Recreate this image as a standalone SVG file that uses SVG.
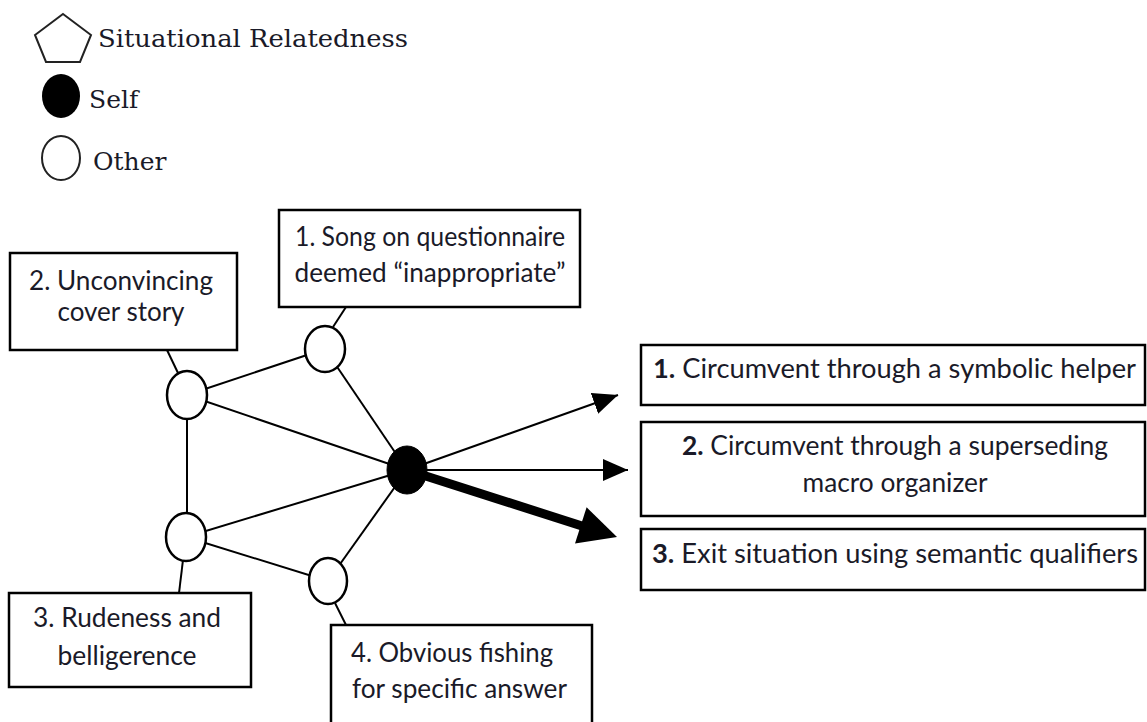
<svg xmlns="http://www.w3.org/2000/svg" width="1147" height="722" viewBox="0 0 1147 722">
  <style>
    .box { fill: #fff; stroke: #000; stroke-width: 2.5; }
    .lbl { font-family: Lato, "Liberation Sans", sans-serif; font-size: 26px; fill: #1a1a28; }
    .leg { font-family: "DejaVu Serif", "Liberation Serif", serif; font-size: 25px; fill: #1a1a28; }
    .edge { stroke: #000; stroke-width: 2; fill: none; }
    .other { fill: #fff; stroke: #000; stroke-width: 2.5; }
    .self { fill: #000; stroke: #000; stroke-width: 1; }
    .b { font-weight: bold; }
  </style>
  <defs>
    <marker id="head" markerUnits="userSpaceOnUse" markerWidth="26" markerHeight="24" refX="25" refY="11" orient="auto">
      <path d="M0,0 L25,11 L0,22 Z" fill="#000"/>
    </marker>
  </defs>
  <rect width="1147" height="722" fill="#fff"/>

  <!-- legend -->
  <g id="legend">
    <polygon points="63,14 91,35 80,62 46,62 35,35" fill="#fff" stroke="#222" stroke-width="2"/>
    <text class="leg" x="98" y="47" textLength="310" lengthAdjust="spacingAndGlyphs">Situational Relatedness</text>
    <ellipse cx="61" cy="96" rx="19" ry="22" fill="#000"/>
    <text class="leg" x="89" y="108">Self</text>
    <ellipse cx="61" cy="158" rx="19" ry="22" fill="#fff" stroke="#222" stroke-width="2"/>
    <text class="leg" x="93" y="170">Other</text>
  </g>

  <!-- connectors -->
  <g id="connectors">
    <line class="edge" x1="187" y1="395" x2="325" y2="349"/>
    <line class="edge" x1="187" y1="395" x2="407" y2="470"/>
    <line class="edge" x1="187" y1="395" x2="187" y2="537"/>
    <line class="edge" x1="186" y1="537" x2="407" y2="470"/>
    <line class="edge" x1="186" y1="537" x2="328" y2="581"/>
    <line class="edge" x1="325" y1="349" x2="407" y2="470"/>
    <line class="edge" x1="328" y1="581" x2="407" y2="470"/>
    <line class="edge" x1="333" y1="327" x2="346" y2="307"/>
    <line class="edge" x1="178" y1="373" x2="167" y2="350"/>
    <line class="edge" x1="183" y1="560" x2="179" y2="593"/>
    <line class="edge" x1="335" y1="603" x2="346" y2="625"/>
    <line class="edge" x1="407" y1="470" x2="618" y2="395" marker-end="url(#head)"/>
    <line class="edge" x1="407" y1="470" x2="628" y2="470" marker-end="url(#head)"/>
    <line x1="407" y1="470" x2="582" y2="526" stroke="#000" stroke-width="9"/>
    <polygon points="586.6,507.3 617,537 575,543.5" fill="#000"/>
  </g>

  <!-- network nodes -->
  <g id="n-song"><ellipse class="other" cx="325" cy="349" rx="20" ry="23"/></g>
  <g id="n-cover"><ellipse class="other" cx="187" cy="395" rx="20" ry="24"/></g>
  <g id="n-rude"><ellipse class="other" cx="186" cy="537" rx="20" ry="24"/></g>
  <g id="n-fish"><ellipse class="other" cx="328" cy="581" rx="19" ry="23"/></g>
  <g id="n-self"><ellipse class="self" cx="407" cy="470" rx="20" ry="24"/></g>

  <!-- situation boxes -->
  <g id="box-song">
    <rect class="box" x="279" y="210" width="301" height="97"/>
    <text class="lbl" x="430" y="246" text-anchor="middle" textLength="270" lengthAdjust="spacingAndGlyphs">1. Song on questionnaire</text>
    <text class="lbl" x="430" y="282" text-anchor="middle" textLength="271" lengthAdjust="spacingAndGlyphs">deemed “inappropriate”</text>
  </g>
  <g id="box-cover">
    <rect class="box" x="10" y="253" width="227" height="97"/>
    <text class="lbl" x="121" y="290" text-anchor="middle" textLength="184" lengthAdjust="spacingAndGlyphs">2. Unconvincing</text>
    <text class="lbl" x="121" y="321" text-anchor="middle" textLength="127" lengthAdjust="spacingAndGlyphs">cover story</text>
  </g>
  <g id="box-rude">
    <rect class="box" x="9" y="593" width="242" height="94"/>
    <text class="lbl" x="127" y="627" text-anchor="middle" textLength="188" lengthAdjust="spacingAndGlyphs">3. Rudeness and</text>
    <text class="lbl" x="127" y="665" text-anchor="middle" textLength="139" lengthAdjust="spacingAndGlyphs">belligerence</text>
  </g>
  <g id="box-fish">
    <rect class="box" x="331" y="625" width="261" height="120"/>
    <text class="lbl" x="351" y="662" textLength="202" lengthAdjust="spacingAndGlyphs">4. Obvious fishing</text>
    <text class="lbl" x="352" y="698" textLength="215" lengthAdjust="spacingAndGlyphs">for specific answer</text>
  </g>

  <!-- outcome boxes -->
  <g id="out-helper">
    <rect class="box" x="641" y="345" width="504" height="60"/>
    <text class="lbl" x="653" y="378" textLength="483" lengthAdjust="spacingAndGlyphs"><tspan class="b">1.</tspan> Circumvent through a symbolic helper</text>
  </g>
  <g id="out-macro">
    <rect class="box" x="641" y="422" width="504" height="94"/>
    <text class="lbl" x="895" y="455" text-anchor="middle" textLength="426" lengthAdjust="spacingAndGlyphs"><tspan class="b">2.</tspan> Circumvent through a superseding</text>
    <text class="lbl" x="895" y="492" text-anchor="middle" textLength="185" lengthAdjust="spacingAndGlyphs">macro organizer</text>
  </g>
  <g id="out-exit">
    <rect class="box" x="641" y="529" width="504" height="61"/>
    <text class="lbl" x="652" y="563" textLength="486" lengthAdjust="spacingAndGlyphs"><tspan class="b">3.</tspan> Exit situation using semantic qualifiers</text>
  </g>
</svg>
